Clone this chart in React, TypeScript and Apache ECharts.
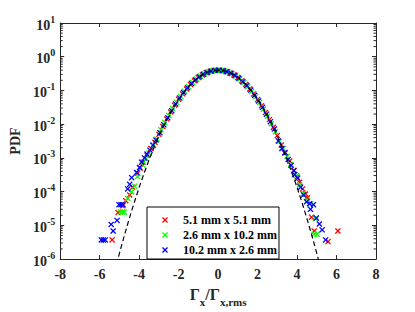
import React, { useEffect, useRef } from "react";
import * as echarts from "echarts";

const seriesNames = ["5.1 mm x 5.1 mm", "2.6 mm x 10.2 mm", "10.2 mm x 2.6 mm"];
const seriesColors = ["#ff0000", "#00ff00", "#0000ff"];

const redPoints: [number, number][] = [
  [-5.37, 3.7e-6], [-5.07, 2.4e-5], [-4.83, 3.8e-5], [-4.68, 5.4e-5], [-4.48, 8.0e-5],
  [-4.33, 1.35e-4], [-4.08, 3.5e-4], [-3.95, 5.0e-4], [-3.8, 7.5e-4], [-3.6, 1.2e-3],
  [-3.4, 1.9e-3], [-3.2, 2.9e-3],
  [-3.0, 0.0050], [-2.8, 0.0085], [-2.6, 0.0142], [-2.4, 0.0230], [-2.2, 0.0362],
  [-2.0, 0.0545], [-1.8, 0.0795], [-1.6, 0.1105], [-1.4, 0.1490], [-1.2, 0.1935],
  [-1.0, 0.2410], [-0.8, 0.2890], [-0.6, 0.3330], [-0.4, 0.3690], [-0.2, 0.3920],
  [0.0, 0.4000], [0.2, 0.3905], [0.4, 0.3675], [0.6, 0.3320], [0.8, 0.2900],
  [1.0, 0.2425], [1.2, 0.1945], [1.4, 0.1500], [1.6, 0.1110], [1.8, 0.0788],
  [2.0, 0.0538], [2.2, 0.0352], [2.4, 0.0222], [2.6, 0.0137], [2.8, 0.0081], [3.0, 0.0046],
  [3.2, 0.0024], [3.4, 0.00145], [3.63, 8.1e-4], [3.85, 4.2e-4], [4.0, 2.7e-4],
  [4.13, 1.9e-4], [4.28, 1.2e-4], [4.43, 8.5e-5], [4.53, 6.6e-5], [4.73, 1.75e-5],
  [4.87, 6.8e-6], [5.57, 3.3e-6], [6.07, 6.8e-6],
];

const greenPoints: [number, number][] = [
  [-4.95, 2.5e-5], [-4.85, 2.5e-5], [-4.75, 2.5e-5], [-4.58, 6.3e-5], [-4.38, 9.8e-5],
  [-4.23, 1.45e-4], [-4.08, 2.8e-4], [-3.83, 6.3e-4], [-3.65, 9.5e-4], [-3.5, 1.4e-3],
  [-3.3, 2.3e-3], [-3.1, 3.6e-3],
  [-2.9, 0.0068], [-2.7, 0.0112], [-2.5, 0.0182], [-2.3, 0.0290], [-2.1, 0.0445],
  [-1.9, 0.0660], [-1.7, 0.0945], [-1.5, 0.1300], [-1.3, 0.1720], [-1.1, 0.2185],
  [-0.9, 0.2665], [-0.7, 0.3125], [-0.5, 0.3520], [-0.3, 0.3810], [-0.1, 0.3965],
  [0.1, 0.3968], [0.3, 0.3812], [0.5, 0.3518], [0.7, 0.3120], [0.9, 0.2660],
  [1.1, 0.2178], [1.3, 0.1712], [1.5, 0.1292], [1.7, 0.0938], [1.9, 0.0652],
  [2.1, 0.0436], [2.3, 0.0280], [2.5, 0.0172], [2.7, 0.0103], [2.9, 0.0060],
  [3.1, 0.0031], [3.3, 0.0019], [3.5, 0.0011], [3.68, 6.3e-4], [3.98, 3.0e-4],
  [4.13, 1.6e-4], [4.33, 9.0e-5], [4.53, 5.5e-5], [4.68, 4.4e-5], [4.93, 1.6e-5],
  [4.87, 5.5e-6], [5.02, 5.5e-6],
];

const bluePoints: [number, number][] = [
  [-5.92, 3.7e-6], [-5.82, 3.7e-6], [-5.72, 3.7e-6], [-5.42, 1.07e-5], [-5.32, 6.8e-6],
  [-5.12, 1.4e-5], [-5.02, 4.1e-5], [-4.92, 4.1e-5], [-4.82, 4.1e-5], [-4.58, 1.2e-4],
  [-4.48, 1.65e-4], [-4.38, 2.6e-4], [-4.13, 3.7e-4], [-3.98, 5.2e-4], [-3.88, 7.5e-4],
  [-3.73, 1.0e-3], [-3.6, 1.3e-3], [-3.45, 1.7e-3], [-3.3, 2.4e-3], [-3.15, 3.4e-3],
  [-2.95, 0.0056], [-2.75, 0.0096], [-2.55, 0.0154], [-2.35, 0.0252], [-2.15, 0.0396],
  [-1.95, 0.0596], [-1.75, 0.0863], [-1.55, 0.1200], [-1.35, 0.1604], [-1.15, 0.2059],
  [-0.95, 0.2541], [-0.75, 0.3011], [-0.55, 0.3429], [-0.35, 0.3752], [-0.15, 0.3945],
  [0.05, 0.3984], [0.25, 0.3867], [0.45, 0.3605], [0.65, 0.3230], [0.85, 0.2780],
  [1.05, 0.2299], [1.25, 0.1826], [1.45, 0.1394], [1.65, 0.1023], [1.85, 0.0721],
  [2.05, 0.0488], [2.25, 0.0317], [2.45, 0.0198], [2.65, 0.0119], [2.85, 0.0072],
  [3.05, 0.0032], [3.23, 0.0019], [3.38, 0.0014], [3.55, 9.0e-4], [3.7, 6.0e-4],
  [3.83, 4.2e-4], [3.88, 3.2e-4], [4.03, 2.5e-4], [4.18, 1.35e-4], [4.33, 8.0e-5],
  [4.48, 5.0e-5], [4.63, 4.4e-5], [4.83, 4.1e-5], [4.68, 3.0e-5], [4.98, 1.65e-5],
  [5.13, 1.1e-5], [5.27, 7.4e-6], [5.45, 3.7e-6],
];

// Standard normal reference curve (dashed)
const gaussX = [
  -5.25, -5.0, -4.75, -4.5, -4.25, -4.0, -3.75, -3.5, -3.25, -3.0, -2.75, -2.5, -2.25, -2.0,
  -1.75, -1.5, -1.25, -1.0, -0.75, -0.5, -0.25, 0, 0.25, 0.5, 0.75, 1.0, 1.25, 1.5, 1.75,
  2.0, 2.25, 2.5, 2.75, 3.0, 3.25, 3.5, 3.75, 4.0, 4.25, 4.5, 4.75, 5.0, 5.25,
];
const gaussY = [
  4.128e-7, 1.487e-6, 5.03e-6, 1.598e-5, 4.768e-5, 1.338e-4, 3.526e-4, 8.727e-4, 2.029e-3,
  4.432e-3, 9.094e-3, 0.01753, 0.03174, 0.05399, 0.08628, 0.1295, 0.1826, 0.2420, 0.3011,
  0.3521, 0.3867, 0.3989, 0.3867, 0.3521, 0.3011, 0.2420, 0.1826, 0.1295, 0.08628, 0.05399,
  0.03174, 0.01753, 9.094e-3, 4.432e-3, 2.029e-3, 8.727e-4, 3.526e-4, 1.338e-4, 4.768e-5,
  1.598e-5, 5.03e-6, 1.487e-6, 4.128e-7,
];

const xTicks = { min: -8, max: 8, interval: 2 };
const yDecades = { min: 1e-6, max: 10 };

const FONT = "Liberation Serif";
const AXIS_COLOR = "#262626";
const X_SYMBOL =
  "path://M0,1.5L1.5,0L5,3.5L8.5,0L10,1.5L6.5,5L10,8.5L8.5,10L5,6.5L1.5,10L0,8.5L3.5,5Z";

export default function App() {
  const ref = useRef<HTMLDivElement>(null);
  useEffect(() => {
    if (!ref.current) return;
    const chart = echarts.init(ref.current, null, { renderer: "svg" });

    const minorVals: number[][] = [];
    for (let e = -6; e <= 0; e++) {
      for (let k = 2; k <= 9; k++) minorVals.push([0, k * Math.pow(10, e)]);
    }

    const common = {
      axisLine: { show: true, onZero: false, lineStyle: { color: AXIS_COLOR, width: 1 } },
      axisTick: { show: true, inside: true, length: 4, lineStyle: { color: AXIS_COLOR } },
      splitLine: { show: false },
    };

    const scatter = (i: number, pts: [number, number][]) => ({
      name: seriesNames[i],
      type: "scatter",
      data: pts,
      symbol: X_SYMBOL,
      symbolSize: 6,
      itemStyle: { color: seriesColors[i], opacity: 1 },
      xAxisIndex: 0,
      yAxisIndex: 0,
      z: 3 + i,
    });

    chart.setOption({
      animation: false,
      backgroundColor: "#fff",
      grid: { left: 54, right: 39, top: 23, bottom: 47, containLabel: false },
      legend: {
        data: seriesNames,
        orient: "vertical",
        left: 147,
        top: 207,
        borderColor: "#000",
        borderWidth: 1,
        borderRadius: 0,
        backgroundColor: "#fff",
        padding: [7, 2, 3, 15],
        itemWidth: 26,
        itemHeight: 6,
        itemGap: 3,
        textStyle: { fontFamily: FONT, fontWeight: "bold", fontSize: 12, color: "#000", lineHeight: 12 },
      },
      xAxis: [
        {
          type: "value",
          ...xTicks,
          position: "bottom",
          ...common,
          axisLabel: { fontFamily: FONT, fontWeight: "bold", fontSize: 14, color: AXIS_COLOR, margin: 8 },
          name: "{g|Γ}{s|x}{g|/}{g|Γ}{s|x,rms}",
          nameLocation: "middle",
          nameGap: 16,
          nameTextStyle: {
            fontFamily: FONT,
            fontWeight: "bold",
            color: AXIS_COLOR,
            rich: {
              g: { fontFamily: FONT, fontSize: 16, fontWeight: "bold", color: AXIS_COLOR, lineHeight: 18, verticalAlign: "top" },
              s: { fontFamily: FONT, fontSize: 11, fontWeight: "bold", color: AXIS_COLOR, lineHeight: 21, verticalAlign: "bottom" },
            },
          },
        },
        {
          type: "value",
          ...xTicks,
          position: "top",
          ...common,
          axisLabel: { show: false },
        },
      ],
      yAxis: [
        {
          type: "log",
          logBase: 10,
          ...yDecades,
          splitNumber: 7,
          position: "left",
          ...common,
          axisLabel: {
            margin: 5,
            formatter: (v: number) => `{b|10}{s|${Math.round(Math.log10(v))}}`,
            rich: {
              b: { fontFamily: FONT, fontWeight: "bold", fontSize: 14, color: AXIS_COLOR, lineHeight: 18, verticalAlign: "bottom" },
              s: { fontFamily: FONT, fontWeight: "bold", fontSize: 10, color: AXIS_COLOR, lineHeight: 18, verticalAlign: "top" },
            },
          },
          name: "PDF",
          nameLocation: "middle",
          nameGap: 26,
          nameTextStyle: { fontFamily: FONT, fontWeight: "bold", fontSize: 14, color: AXIS_COLOR },
        },
        {
          type: "log",
          logBase: 10,
          ...yDecades,
          splitNumber: 7,
          position: "right",
          ...common,
          axisLabel: { show: false },
        },
      ],
      series: [
        scatter(0, redPoints),
        scatter(1, greenPoints),
        scatter(2, bluePoints),
        {
          name: "gauss",
          type: "line",
          data: gaussX.map((x, i) => [x, gaussY[i]]),
          symbol: "none",
          clip: true,
          lineStyle: { color: "#000", width: 1.2, type: [5, 3] },
          xAxisIndex: 0,
          yAxisIndex: 0,
          z: 10,
          silent: true,
        },
        {
          name: "minorTicks",
          type: "custom",
          data: minorVals,
          xAxisIndex: 0,
          yAxisIndex: 0,
          silent: true,
          clip: false,
          z: 11,
          renderItem: (_params: any, api: any) => {
            const v = api.value(1);
            const l = api.coord([xTicks.min, v]);
            const r = api.coord([xTicks.max, v]);
            return {
              type: "group",
              children: [
                { type: "line", shape: { x1: l[0], y1: l[1], x2: l[0] + 2.5, y2: l[1] }, style: { stroke: AXIS_COLOR, lineWidth: 1 } },
                { type: "line", shape: { x1: r[0] - 2.5, y1: r[1], x2: r[0], y2: r[1] }, style: { stroke: AXIS_COLOR, lineWidth: 1 } },
              ],
            };
          },
        },
      ],
    });
    return () => chart.dispose();
  }, []);
  return <div ref={ref} style={{ width: 415, height: 312, position: "absolute", left: 0, top: 0 }} />;
}
